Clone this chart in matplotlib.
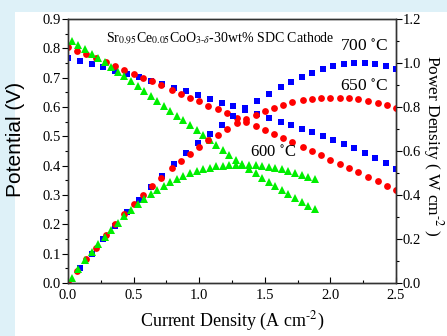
import matplotlib
matplotlib.use("Agg")
import matplotlib.pyplot as plt
from matplotlib.ticker import MultipleLocator, FormatStrFormatter
from matplotlib.patches import Rectangle

plt.rcParams['font.family'] = ['Liberation Serif', 'DejaVu Serif']
plt.rcParams['mathtext.fontset'] = 'stix'

# 700 C
j_700 = [0.00, 0.09, 0.18, 0.27, 0.36, 0.45, 0.54, 0.63, 0.72, 0.81, 0.90, 0.99, 1.08, 1.17, 1.26,
         1.35, 1.44, 1.53, 1.62, 1.70, 1.78, 1.86, 1.94, 2.02, 2.10, 2.18, 2.26, 2.34, 2.42, 2.50]
v_700 = [0.768, 0.757, 0.746, 0.735, 0.724, 0.713, 0.702, 0.690, 0.678, 0.666, 0.654, 0.641, 0.628, 0.615, 0.602,
         0.589, 0.576, 0.563, 0.550, 0.538, 0.526, 0.514, 0.501, 0.488, 0.474, 0.459, 0.443, 0.426, 0.408, 0.389]
p_700 = [0.000, 0.068, 0.134, 0.198, 0.261, 0.321, 0.379, 0.435, 0.488, 0.539, 0.589, 0.635, 0.678, 0.720, 0.759,
         0.795, 0.829, 0.861, 0.891, 0.915, 0.936, 0.956, 0.972, 0.986, 0.995, 1.001, 1.001, 0.997, 0.987, 0.973]

# 650 C
j_650 = [0.00, 0.07, 0.14, 0.21, 0.29, 0.36, 0.43, 0.50, 0.57, 0.64, 0.71, 0.79, 0.86, 0.93, 1.00, 1.07, 1.14, 1.21,
         1.29, 1.36, 1.43, 1.50, 1.57, 1.64, 1.71, 1.79, 1.86, 1.93, 2.00, 2.07, 2.14, 2.21, 2.29, 2.36, 2.43, 2.50]
v_650 = [0.805, 0.792, 0.780, 0.767, 0.752, 0.739, 0.727, 0.714, 0.700, 0.687, 0.674, 0.659, 0.646, 0.632, 0.619,
         0.605, 0.592, 0.578, 0.563, 0.549, 0.535, 0.522, 0.508, 0.494, 0.480, 0.464, 0.449, 0.435, 0.421, 0.407,
         0.392, 0.378, 0.361, 0.347, 0.332, 0.318]
p_650 = [0.000, 0.055, 0.109, 0.161, 0.218, 0.266, 0.313, 0.357, 0.399, 0.440, 0.479, 0.521, 0.556, 0.588, 0.619,
         0.648, 0.675, 0.699, 0.726, 0.747, 0.765, 0.782, 0.797, 0.810, 0.821, 0.830, 0.836, 0.840, 0.842, 0.842,
         0.839, 0.835, 0.827, 0.819, 0.807, 0.795]

# 600 C
j_600 = [0.03, 0.08, 0.13, 0.18, 0.23, 0.28, 0.33, 0.38, 0.43, 0.48, 0.53, 0.58, 0.63, 0.68, 0.73, 0.78, 0.83, 0.88,
         0.93, 0.98, 1.03, 1.08, 1.13, 1.18, 1.23, 1.28, 1.33, 1.38, 1.43, 1.48, 1.53, 1.58, 1.63, 1.68, 1.73, 1.78,
         1.83, 1.88]
v_600 = [0.826, 0.812, 0.797, 0.782, 0.767, 0.752, 0.737, 0.721, 0.705, 0.689, 0.673, 0.656, 0.639, 0.622, 0.605,
         0.588, 0.571, 0.554, 0.537, 0.520, 0.503, 0.486, 0.469, 0.452, 0.436, 0.420, 0.404, 0.389, 0.374, 0.359,
         0.345, 0.331, 0.317, 0.303, 0.290, 0.277, 0.264, 0.251]
p_600 = [0.025, 0.065, 0.104, 0.141, 0.176, 0.211, 0.243, 0.274, 0.303, 0.331, 0.357, 0.380, 0.403, 0.423, 0.442,
         0.459, 0.474, 0.488, 0.499, 0.510, 0.518, 0.525, 0.530, 0.533, 0.536, 0.538, 0.537, 0.537, 0.535, 0.531,
         0.528, 0.523, 0.517, 0.509, 0.502, 0.493, 0.483, 0.472]

fig = plt.figure(figsize=(4.47, 3.36), dpi=100, facecolor='#def1f8')
# white panel, light blue strip on the left and top
fig.patches.append(Rectangle((15 / 447, 0), 1, 1 - 12 / 336, transform=fig.transFigure,
                             facecolor='white', edgecolor='none', zorder=-10))

ax = fig.add_axes([68 / 447, 53 / 336, 328 / 447, 264 / 336])
ax2 = ax.twinx()

blue = '#0000ff'
red = '#ff0000'
green = '#00ee00'

ax.plot(j_700, v_700, 's', color=blue, ms=3.8, mew=0)
ax.plot(j_650, v_650, 'o', color=red, ms=4.9, mew=0)
ax.plot(j_600, v_600, '^', color=green, ms=5.4, mew=0)
ax2.plot(j_700, p_700, 's', color=blue, ms=3.8, mew=0)
ax2.plot(j_650, p_650, 'o', color=red, ms=4.9, mew=0)
ax2.plot(j_600, p_600, '^', color=green, ms=5.4, mew=0)

ax.set_xlim(0, 2.5)
ax.set_ylim(0, 0.9)
ax2.set_ylim(0, 1.2)

ax.xaxis.set_major_locator(MultipleLocator(0.5))
ax.xaxis.set_minor_locator(MultipleLocator(0.25))
ax.yaxis.set_major_locator(MultipleLocator(0.1))
ax.yaxis.set_minor_locator(MultipleLocator(0.05))
ax2.yaxis.set_major_locator(MultipleLocator(0.2))
ax2.yaxis.set_minor_locator(MultipleLocator(0.1))
ax.xaxis.set_major_formatter(FormatStrFormatter('%.1f'))
ax.yaxis.set_major_formatter(FormatStrFormatter('%.1f'))
ax2.yaxis.set_major_formatter(FormatStrFormatter('%.1f'))

ax.tick_params(axis='x', which='major', direction='in', length=4, width=0.8, labelsize=10.5, pad=4)
ax.tick_params(axis='x', which='minor', direction='in', length=2.5, width=0.8)
ax.tick_params(axis='y', which='major', direction='out', length=4, width=0.8, labelsize=10.5, pad=1)
ax.tick_params(axis='y', which='minor', direction='out', length=2.5, width=0.8)
ax2.tick_params(axis='y', which='major', direction='out', length=4, width=0.8, labelsize=10.5, pad=1)
ax2.tick_params(axis='y', which='minor', direction='out', length=2.5, width=0.8)

for a in (ax, ax2):
    for s in a.spines.values():
        s.set_linewidth(1.0)
        s.set_color('#333333')

ax.set_xlabel('Current Density (A cm$^{\\text{-}2}$)', fontsize=13, labelpad=6)
ax.set_ylabel('Potential (V)', fontsize=15, family='Liberation Sans')
ax.yaxis.set_label_coords(-0.13, 0.545)
ax2.set_ylabel('Power Density ( W cm$^{\\text{-}2}$ )', fontsize=12.5, rotation=270)
ax2.yaxis.set_label_coords(1.15, 0.52)

ax.text(0.463, 0.925, 'Sr$_{0.95}$Ce$_{0.05}$CoO$_{3\\text{-}\\delta}$-30wt% SDC Cathode',
        transform=ax.transAxes, ha='center', va='center', fontsize=10)
ax.text(2.26, 0.803, '700 $^{\\circ}$C', ha='center', va='center', fontsize=12.5)
ax.text(2.26, 0.667, '650 $^{\\circ}$C', ha='center', va='center', fontsize=12.5)
ax.text(1.56, 0.443, '600 $^{\\circ}$C', ha='center', va='center', fontsize=12)

fig.savefig('out.png', dpi=100, facecolor=fig.get_facecolor())
